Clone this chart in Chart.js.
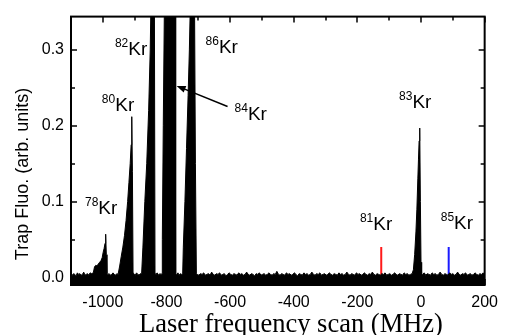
<!DOCTYPE html>
<html><head><meta charset="utf-8">
<script src="https://cdn.jsdelivr.net/npm/chart.js@4/dist/chart.umd.min.js"></script>
<style>html,body{margin:0;padding:0;background:#fff}#wrap{width:506px;height:335px}</style>
</head><body><div id="wrap"><canvas id="c" width="506" height="335"></canvas></div>
<script>
// [frequency (MHz), trap fluorescence (arb. units)]
const spectrum = [
  [-1100,0.004],[-1096,0.003],[-1092,0.005],[-1088,0.004],[-1084,0.002],[-1080,0.006],[-1076,0.004],[-1072,0.005],
  [-1068,0.003],[-1064,0.004],[-1060,0.007],[-1056,0.003],[-1052,0.004],[-1048,0.005],[-1044,0.003],[-1040,0.006],[-1035,0.005],
  [-1030,0.006],[-1026,0.014],[-1022,0.016],[-1018,0.015],[-1014,0.018],[-1010,0.020],[-1006,0.022],[-1002,0.026],
  [-999,0.033],[-996,0.038],[-993,0.045],[-991,0.057],[-989,0.030],[-987,0.005],
  [-984,0.004],[-980,0.005],[-976,0.003],[-972,0.004],[-968,0.006],[-964,0.004],[-960,0.003],[-956,0.005],
  [-952,0.004],[-947,0.015],[-942,0.028],[-937,0.040],[-932,0.055],[-927,0.075],[-922,0.100],[-918,0.125],
  [-914,0.150],[-911,0.175],[-909,0.212],[-907,0.140],[-905,0.006],
  [-902,0.005],[-898,0.003],[-894,0.006],[-890,0.004],[-886,0.003],[-882,0.005],
  [-878,0.005],[-874,0.040],[-868,0.100],[-862,0.150],[-856,0.220],[-851,0.300],[-848,0.380],[-838,0.380],[-836,0.005],
  [-833,0.004],[-829,0.006],[-825,0.003],[-821,0.005],[-817,0.004],[-814,0.005],
  [-813,0.050],[-810,0.200],[-806,0.380],[-773,0.380],[-771,0.005],
  [-768,0.004],[-764,0.006],[-760,0.003],[-756,0.005],[-752,0.004],[-749,0.005],
  [-747,0.040],[-742,0.100],[-737,0.170],[-732,0.240],[-728,0.300],[-724,0.380],[-712,0.380],[-709,0.150],[-706,0.005],
  [-703,0.004],[-698,0.003],[-693,0.005],[-688,0.004],[-683,0.006],[-678,0.003],[-673,0.004],[-668,0.005],
  [-663,0.003],[-658,0.007],[-653,0.004],[-648,0.003],[-643,0.005],[-638,0.004],[-633,0.006],[-628,0.003],
  [-623,0.004],[-618,0.005],[-613,0.002],[-608,0.004],[-603,0.006],[-598,0.004],[-593,0.003],[-588,0.005],
  [-583,0.004],[-578,0.003],[-573,0.006],[-568,0.004],[-563,0.005],[-558,0.003],[-553,0.004],[-548,0.007],
  [-543,0.004],[-538,0.003],[-533,0.005],[-528,0.004],[-523,0.002],[-518,0.005],[-513,0.004],[-508,0.006],
  [-503,0.003],[-498,0.004],[-493,0.005],[-488,0.003],[-483,0.004],[-478,0.006],[-473,0.004],[-468,0.003],
  [-463,0.005],[-458,0.004],[-453,0.008],[-448,0.004],[-443,0.003],[-438,0.005],[-433,0.004],[-428,0.003],
  [-423,0.006],[-418,0.004],[-413,0.005],[-408,0.003],[-403,0.004],[-398,0.006],[-393,0.004],[-388,0.002],
  [-383,0.005],[-378,0.004],[-373,0.003],[-368,0.006],[-363,0.004],[-358,0.005],[-353,0.003],[-348,0.004],
  [-343,0.007],[-338,0.004],[-333,0.003],[-328,0.005],[-323,0.004],[-318,0.006],[-313,0.003],[-308,0.004],
  [-303,0.005],[-298,0.003],[-293,0.004],[-288,0.006],[-283,0.004],[-278,0.003],[-273,0.005],[-268,0.004],
  [-263,0.003],[-258,0.006],[-253,0.004],[-248,0.005],[-243,0.003],[-238,0.004],[-233,0.007],[-228,0.004],
  [-223,0.003],[-218,0.005],[-213,0.004],[-208,0.003],[-203,0.006],[-198,0.004],[-193,0.005],[-188,0.003],
  [-183,0.004],[-178,0.006],[-173,0.004],[-168,0.003],[-163,0.005],[-158,0.004],[-153,0.007],[-148,0.004],
  [-143,0.003],[-138,0.005],[-133,0.004],[-128,0.003],[-123,0.005],[-118,0.004],[-113,0.006],[-108,0.003],
  [-103,0.004],[-98,0.005],[-93,0.003],[-88,0.004],[-83,0.006],[-78,0.004],[-73,0.003],[-68,0.005],
  [-63,0.004],[-58,0.003],[-53,0.006],[-48,0.004],[-43,0.005],[-38,0.003],[-33,0.004],[-28,0.005],
  [-24,0.010],[-20,0.030],[-16,0.060],[-13,0.090],[-10,0.130],[-8,0.155],[-6,0.180],[-4,0.197],[-2,0.100],[0,0.020],[2,0.005],
  [5,0.004],[10,0.006],[15,0.003],[20,0.005],[25,0.004],[30,0.003],[35,0.006],[40,0.004],
  [45,0.005],[50,0.003],[55,0.004],[60,0.007],[65,0.004],[70,0.003],[75,0.005],[80,0.004],
  [85,0.003],[90,0.006],[95,0.004],[100,0.005],[105,0.003],[110,0.004],[115,0.007],[120,0.004],
  [125,0.003],[130,0.005],[135,0.004],[140,0.006],[145,0.003],[150,0.004],[155,0.005],[160,0.003],
  [165,0.004],[170,0.006],[175,0.004],[180,0.003],[185,0.005],[190,0.004],[195,0.006],[200,0.004]
];
// predicted positions of the rare isotopes
const kr81Freq = [-125, -125];
const kr81Sig = [0.0, 0.04];
const kr85Freq = [87, 87];
const kr85Sig = [0.0, 0.04];

const xTicks = [-1000, -800, -600, -400, -200, 0, 200];
const xMinorTicks = [-1100, -900, -700, -500, -300, -100, 100];
const yTicks = [0.0, 0.1, 0.2, 0.3];
const yMinorTicks = [0.05, 0.15, 0.25];

const xTitle = 'Laser frequency scan (MHz)';
const yTitle = 'Trap Fluo. (arb. units)';
const isotopes = ['78', '80', '82', '84', '86', '83', '81', '85'];
// label anchors in data coordinates (left of superscript, baseline of "Kr")
const labelX = [-1056, -1003, -962, -586, -677, -69, -192, 62];
const labelY = [0.084, 0.220, 0.294, 0.2075, 0.296, 0.223, 0.062, 0.0633];

const annot = {
  id: 'annot',
  afterDatasetsDraw(chart) {
    const {ctx, chartArea: a, scales: {x, y}} = chart;
    ctx.save();
    ctx.strokeStyle = '#000';
    // ticks (inward, on all four sides)
    ctx.lineWidth = 1.5;
    const tick = (px, py, dx, dy) => { ctx.beginPath(); ctx.moveTo(px, py); ctx.lineTo(px + dx, py + dy); ctx.stroke(); };
    xTicks.forEach(v => { const p = Math.round(x.getPixelForValue(v)); tick(p, a.bottom, 0, -6); tick(p, a.top, 0, 6); });
    xMinorTicks.forEach(v => { const p = Math.round(x.getPixelForValue(v)); tick(p, a.bottom, 0, -4); tick(p, a.top, 0, 4); });
    yTicks.forEach(v => { const p = Math.round(y.getPixelForValue(v)); tick(a.left, p, 6, 0); tick(a.right, p, -6, 0); });
    yMinorTicks.forEach(v => { const p = Math.round(y.getPixelForValue(v)); tick(a.left, p, 4, 0); tick(a.right, p, -4, 0); });
    // frame
    ctx.lineWidth = 2;
    ctx.strokeRect(a.left, a.top, a.right - a.left, a.bottom - a.top);
    // isotope labels
    ctx.fillStyle = '#000';
    ctx.textBaseline = 'alphabetic';
    ctx.textAlign = 'left';
    isotopes.forEach((iso, i) => {
      const px = x.getPixelForValue(labelX[i]);
      const py = y.getPixelForValue(labelY[i]);
      ctx.font = '12px "Liberation Sans", Arial, sans-serif';
      ctx.fillText(iso, px, py - 8);
      const w = ctx.measureText(iso).width;
      ctx.font = '19px "Liberation Sans", Arial, sans-serif';
      ctx.fillText('Kr', px + w, py);
    });
    // arrow pointing at 84Kr
    const tx = x.getPixelForValue(-608), ty = y.getPixelForValue(0.2255);
    const hx = x.getPixelForValue(-768), hy = y.getPixelForValue(0.2526);
    const ang = Math.atan2(hy - ty, hx - tx);
    ctx.lineWidth = 1.5;
    ctx.beginPath(); ctx.moveTo(tx, ty); ctx.lineTo(hx - 6 * Math.cos(ang), hy - 6 * Math.sin(ang)); ctx.stroke();
    ctx.beginPath();
    ctx.moveTo(hx, hy);
    ctx.lineTo(hx - 9 * Math.cos(ang) + 3.5 * Math.sin(ang), hy - 9 * Math.sin(ang) - 3.5 * Math.cos(ang));
    ctx.lineTo(hx - 9 * Math.cos(ang) - 3.5 * Math.sin(ang), hy - 9 * Math.sin(ang) + 3.5 * Math.cos(ang));
    ctx.closePath(); ctx.fill();
    // x axis title
    ctx.font = '26.5px "Liberation Serif", "Times New Roman", serif';
    ctx.textAlign = 'center';
    ctx.textBaseline = 'alphabetic';
    ctx.fillText(xTitle, 291, 332);
    // y axis title
    ctx.save();
    ctx.translate(23, 174);
    ctx.rotate(-Math.PI / 2);
    ctx.font = '18px "Liberation Sans", Arial, sans-serif';
    ctx.textAlign = 'center';
    ctx.textBaseline = 'middle';
    ctx.fillText(yTitle, 0, 0);
    ctx.restore();
    ctx.restore();
  }
};

new Chart(document.getElementById('c'), {
  type: 'line',
  data: {
    datasets: [
      {
        data: spectrum.map(p => ({x: p[0], y: p[1]})),
        borderColor: '#000', backgroundColor: '#000', borderWidth: 1,
        fill: 'start', pointRadius: 0, tension: 0, clip: 0
      },
      {
        data: kr81Freq.map((f, i) => ({x: f, y: kr81Sig[i]})),
        borderColor: '#ff1a1a', borderWidth: 2, fill: false, pointRadius: 0
      },
      {
        data: kr85Freq.map((f, i) => ({x: f, y: kr85Sig[i]})),
        borderColor: '#1a1aff', borderWidth: 2, fill: false, pointRadius: 0
      }
    ]
  },
  options: {
    responsive: false, animation: false, devicePixelRatio: 1,
    layout: {padding: {top: 10, right: 20, left: 0, bottom: 0}},
    plugins: {legend: {display: false}, tooltip: {enabled: false}},
    scales: {
      x: {
        type: 'linear', min: -1100, max: 200,
        afterBuildTicks: s => { s.ticks = xTicks.map(v => ({value: v})); },
        afterFit: s => { s.height = 50; },
        grid: {display: false, drawTicks: false}, border: {display: false},
        ticks: {color: '#000', padding: 8, maxRotation: 0, autoSkip: false,
          font: {family: '"Liberation Sans", Arial, sans-serif', size: 16},
          callback: v => String(v)},
        title: {display: false}
      },
      y: {
        type: 'linear', min: -0.01, max: 0.344,
        afterBuildTicks: s => { s.ticks = yTicks.map(v => ({value: v})); },
        afterFit: s => { s.width = 71; },
        grid: {display: false, drawTicks: false}, border: {display: false},
        ticks: {color: '#000', padding: 7,
          font: {family: '"Liberation Sans", Arial, sans-serif', size: 16},
          callback: v => v.toFixed(1)}
      }
    }
  },
  plugins: [annot]
});
</script></body></html>
